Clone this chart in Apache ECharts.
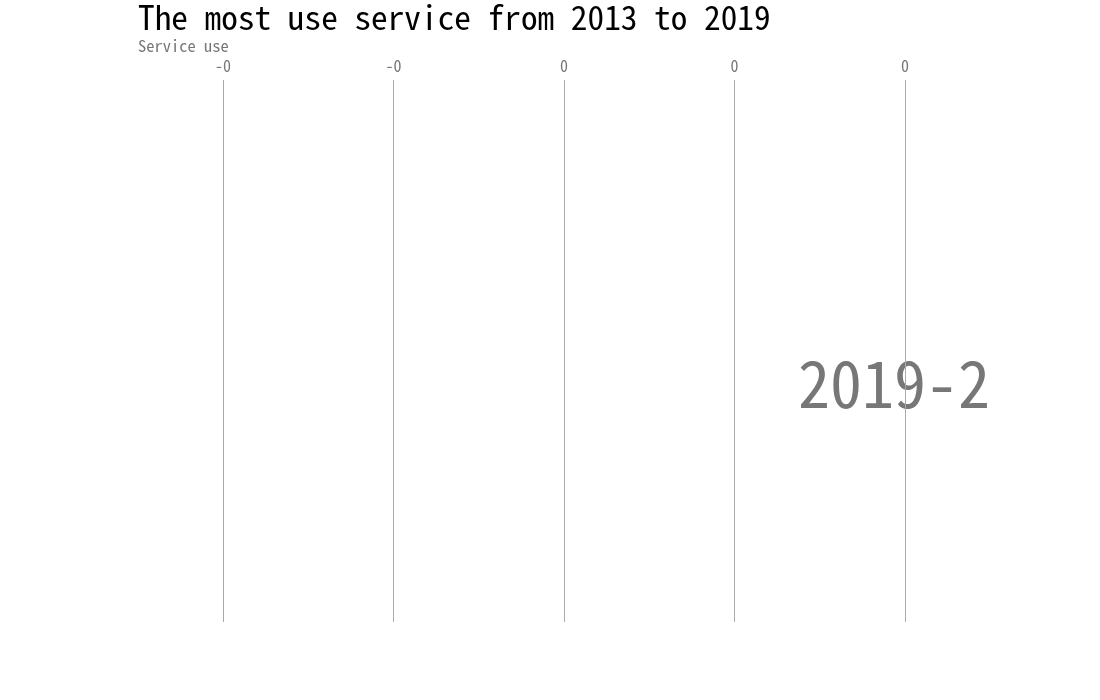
<!DOCTYPE html>
<html><head><meta charset="utf-8">
<script src="https://cdn.jsdelivr.net/npm/echarts@6/dist/echarts.min.js"></script>
<style>html,body{margin:0;padding:0;background:#fff}#c{width:1100px;height:700px}</style>
</head><body><div id="c"></div>
<script>
const titleText = 'The most use service from 2013 to 2019';
const subTitle = 'Service use';
const currentPeriod = '2019-2';
const categories = [];
const values = [];
const axisMin = -0.2, axisMax = 0.2, axisStep = 0.1;

const FONT = '"Noto Sans Mono CJK SC", "Noto Sans CJK SC", monospace';
const chart = echarts.init(document.getElementById('c'));
chart.setOption({
  backgroundColor: '#fff',
  textStyle: { fontFamily: FONT },
  title: {
    text: titleText, subtext: subTitle, left: 133, top: -4, itemGap: 3,
    textStyle: { fontSize: 33.3, fontWeight: 'normal', color: '#000', fontFamily: FONT },
    subtextStyle: { fontSize: 16.5, color: '#777', fontFamily: FONT }
  },
  grid: { left: 223, right: 195, top: 80, bottom: 78, containLabel: false },
  xAxis: {
    type: 'value', position: 'top', min: axisMin, max: axisMax, interval: axisStep,
    axisLine: { show: false }, axisTick: { show: false },
    splitLine: { lineStyle: { color: '#aaa' } },
    axisLabel: { color: '#777', fontSize: 16, margin: 6, fontFamily: FONT, formatter: v => v.toFixed(0) }
  },
  yAxis: { type: 'category', data: categories, inverse: true, show: false },
  series: [{ type: 'bar', data: values, realtimeSort: true }],
  graphic: [{
    type: 'text', right: 110, top: 352,
    style: { text: currentPeriod, font: '64px "Noto Sans Mono CJK SC", "Noto Sans CJK SC", monospace', fill: '#777' }
  }],
  animation: false
});
</script></body></html>
